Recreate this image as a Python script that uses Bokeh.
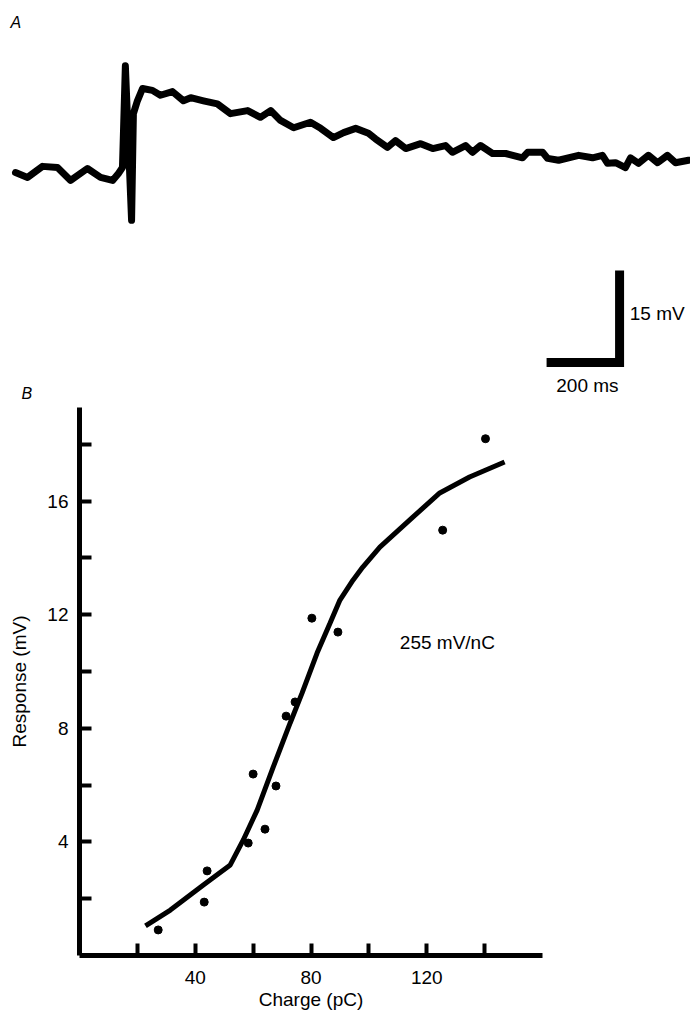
from bokeh.plotting import figure
from bokeh.models import Range1d, FixedTicker
from bokeh.embed import file_html
from bokeh.resources import INLINE
from bokeh.core.properties import value

FONT = "Liberation Sans"

# ---------------- Panel A : voltage trace ----------------
trace_t_ms = [0, 33, 74, 115, 151, 197, 233, 266, 282, 293, 301, 318, 323, 334, 348,
              375, 397, 430, 460, 480, 515, 553, 589, 636, 671, 699, 726, 762, 808,
              836, 871, 899, 932, 967, 986, 1019, 1041, 1069, 1110, 1143, 1178, 1197,
              1233, 1252, 1274, 1307, 1343, 1389, 1403, 1444, 1458, 1488, 1543, 1581,
              1608, 1622, 1644, 1671, 1685, 1707, 1734, 1759, 1786, 1808, 1844]
trace_mv = [0, -0.8, 1.0, 0.8, -1.3, 0.65, -0.8, -1.3, -0.15, 0.8, 17.4, -7.8, 9.6, 11.7, 13.7,
            13.4, 12.6, 13.2, 11.7, 12.2, 11.7, 11.2, 9.6, 10.1, 9.0, 10.1, 8.5, 7.3, 8.2,
            7.2, 5.7, 6.5, 7.2, 6.4, 5.5, 4.1, 5.2, 3.9, 4.7, 3.9, 4.4, 3.3,
            4.4, 3.3, 4.4, 3.1, 3.1, 2.4, 3.3, 3.3, 2.3, 2.0, 2.8, 2.4,
            2.8, 1.5, 1.6, 0.8, 2.4, 1.5, 2.8, 1.6, 2.8, 1.6, 2.0]
scalebar_ms = 200
scalebar_mv = 15
scalebar_labels = ["15 mV", "200 ms"]
panel_labels = ["A", "B"]

# ---------------- Panel B : response vs charge ----------------
charge_pc = [27.2, 43.1, 44.1, 58.3, 60.0, 64.1, 67.9, 71.4, 74.5, 80.3, 89.3, 125.5, 140.3]
response_mv = [0.90, 1.88, 2.98, 3.96, 6.39, 4.45, 5.97, 8.43, 8.93, 11.88, 11.39, 14.98, 18.2]
fit_charge_pc = [22.8, 31.4, 42.8, 52.1, 56.6, 61.4, 67.0, 72.8, 76.9, 82.1, 86.6, 90.0,
                 94.5, 97.9, 103.8, 115.2, 124.5, 134.8, 146.9]
fit_response_mv = [1.04, 1.60, 2.48, 3.19, 4.07, 5.12, 6.65, 8.19, 9.24, 10.65, 11.71, 12.52,
                   13.22, 13.68, 14.38, 15.44, 16.29, 16.85, 17.38]
x_ticks = [20, 40, 60, 80, 100, 120, 140]
x_tick_hidden = [20, 60, 100, 140]
y_ticks = [2, 4, 6, 8, 10, 12, 14, 16, 18]
y_tick_hidden = [2, 6, 10, 14, 18]
x_label = "Charge (pC)"
y_label = "Response (mV)"
slope_label = "255  mV/nC"

W = 690
HA = 405
HB = 612

# ---- figure A ----
pa = figure(width=W, height=HA, x_range=Range1d(-41.1, 1849.3), y_range=Range1d(-38.01, 28.06),
            output_backend="svg", toolbar_location=None,
            x_axis_location=None, y_axis_location=None, min_border=0)
pa.grid.visible = False
pa.outline_line_color = None

pa.line(trace_t_ms, trace_mv, line_width=7, color="black", line_join="round", line_cap="round")

corner_t = 1655
corner_v = -31.0
pa.line([corner_t - scalebar_ms, corner_t, corner_t],
        [corner_v, corner_v, corner_v + scalebar_mv],
        line_width=9, color="black", line_join="miter")

pa.text(x=[1683], y=[-23.0], text=[scalebar_labels[0]], text_font=value(FONT),
        text_font_size="19px", text_align="left", text_baseline="middle", text_color="black")
pa.text(x=[1567], y=[-34.7], text=[scalebar_labels[1]], text_font=value(FONT),
        text_font_size="19px", text_align="center", text_baseline="middle", text_color="black")
pa.text(x=[-13.7, 16.4], y=[24.5, -36.0], text=panel_labels, text_font=value(FONT),
        text_font_size="16px", text_font_style="italic", text_align="left",
        text_baseline="middle", text_color="black")

# ---- figure B ----
pb = figure(width=W, height=HB, x_range=Range1d(0, 160), y_range=Range1d(0, 19.3),
            output_backend="svg", toolbar_location=None,
            min_border_left=79, min_border_right=148, min_border_top=2, min_border_bottom=62)
pb.grid.visible = False
pb.outline_line_color = None

pb.xaxis.ticker = FixedTicker(ticks=x_ticks, minor_ticks=[])
pb.yaxis.ticker = FixedTicker(ticks=y_ticks, minor_ticks=[])
pb.xaxis.major_label_overrides = {t: "" for t in x_tick_hidden}
pb.yaxis.major_label_overrides = {t: "" for t in y_tick_hidden}
for ax in (pb.xaxis, pb.yaxis):
    ax.axis_line_width = 5
    ax.axis_line_color = "black"
    ax.major_tick_line_width = 4
    ax.major_tick_line_color = "black"
    ax.major_tick_in = 12
    ax.major_tick_out = 0
    ax.minor_tick_in = 0
    ax.minor_tick_out = 0
    ax.major_label_text_font = FONT
    ax.major_label_text_font_size = "19px"
    ax.major_label_text_color = "black"
    ax.axis_label_text_font = FONT
    ax.axis_label_text_font_size = "19px"
    ax.axis_label_text_font_style = "normal"
    ax.axis_label_text_color = "black"
pb.xaxis.major_label_standoff = 15
pb.yaxis.major_label_standoff = 11
pb.yaxis.axis_label = y_label
pb.yaxis.axis_label_standoff = 14
pb.xaxis.axis_label = x_label
pb.xaxis.axis_label_standoff = 2

pb.line(fit_charge_pc, fit_response_mv, line_width=5, color="black")
pb.scatter(charge_pc, response_mv, size=8, color="black")
pb.text(x=[110.7], y=[11.04], text=[slope_label], text_font=value(FONT),
        text_font_size="19px", text_align="left", text_baseline="middle", text_color="black")

open("out.html", "w").write(file_html([pa, pb], INLINE))
